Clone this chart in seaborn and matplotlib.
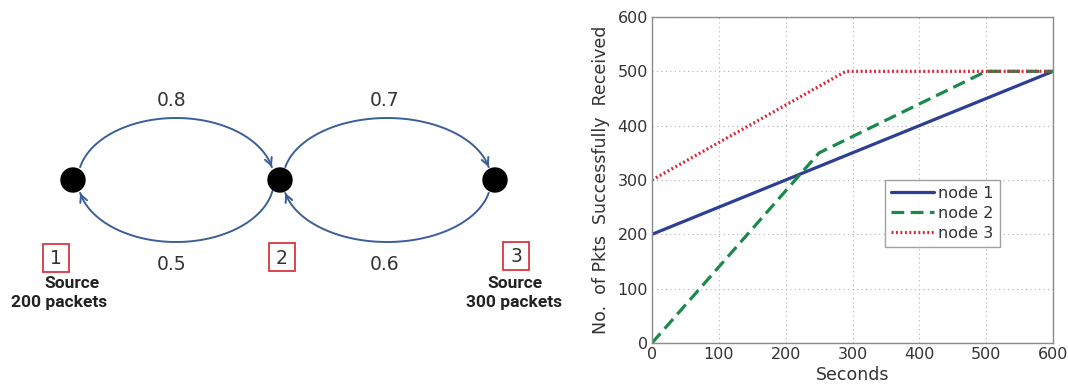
import numpy as np
import matplotlib
matplotlib.use("Agg")
import matplotlib.pyplot as plt
import seaborn as sns
from matplotlib.patches import Circle, Rectangle

# chart data
node1_t = [0, 600]
node1_pk = [200, 500]
node2_t = [0, 250, 500, 600]
node2_pk = [0, 350, 500, 500]
node3_t = [0, 290, 600]
node3_pk = [300, 500, 500]
x_ticks = [0, 100, 200, 300, 400, 500, 600]
y_ticks = [0, 100, 200, 300, 400, 500, 600]

# diagram labels
edge_probs = ["0.8", "0.5", "0.7", "0.6"]
node_ids = ["1", "2", "3"]

sns.set_style("whitegrid")
plt.rcParams['font.family'] = ['DejaVu Sans']

fig = plt.figure(figsize=(10.68, 3.87), dpi=100)

# ---- left: network diagram (pixel coords) ----
axd = fig.add_axes([0, 0, 580 / 1068, 1])
axd.set_xlim(0, 580)
axd.set_ylim(387, 0)
axd.axis("off")

arc_col = "#3b5f98"

def ell_arc(cx, cy, a, b, t0, t1):
    t = np.radians(np.linspace(t0, t1, 100))
    x = cx + a * np.cos(t)
    y = cy - b * np.sin(t)
    axd.plot(x, y, color=arc_col, lw=1.4)
    axd.annotate("", xy=(x[-1], y[-1]), xytext=(x[-4], y[-4]),
                 arrowprops=dict(arrowstyle="->", color=arc_col, lw=1.4,
                                 mutation_scale=13))

ell_arc(176, 180, 98, 62, 168, 12)
ell_arc(176, 180, 98, 62, -10, -168)
ell_arc(387, 180, 104, 62, 168, 12)
ell_arc(387, 180, 104, 62, -12, -168)

for cx in [73, 280, 495]:
    axd.add_patch(Circle((cx, 180), 12, color="black", zorder=5))

lab_pos = [(172, 100), (172, 264), (385, 100), (385, 264)]
for (x, y), s in zip(lab_pos, edge_probs):
    axd.text(x, y, s, ha="center", va="center", fontsize=13.5, color="#333333")

box_pos = [(56, 258), (282, 257), (516, 256)]
for (x, y), s in zip(box_pos, node_ids):
    axd.add_patch(Rectangle((x - 13, y - 14), 26, 28, fill=False,
                            edgecolor="#d9363e", lw=1.3))
    axd.text(x, y + 1, s, ha="center", va="center", fontsize=13.5, color="#333333")

src_style = dict(ha="center", va="center", fontsize=12.5, fontweight="bold",
                 color="#222222", family="Roboto")
axd.text(72, 283, "Source", **src_style)
axd.text(59, 303, "200 packets", **src_style)
axd.text(515, 283, "Source", **src_style)
axd.text(514, 303, "300 packets", **src_style)

# ---- right: line chart ----
ax = fig.add_axes([652 / 1068, 44 / 387, 401 / 1068, 326 / 387])
sns.lineplot(x=node1_t, y=node1_pk, ax=ax, color="#2c3f94", lw=2.3, label="node 1")
sns.lineplot(x=node2_t, y=node2_pk, ax=ax, color="#1a8a4c", lw=2.3,
             linestyle=(0, (4, 2)), label="node 2")
sns.lineplot(x=node3_t, y=node3_pk, ax=ax, color="#d8283a", lw=2.3,
             linestyle=(0, (0.6, 0.8)), label="node 3")

ax.set_xlim(0, 600)
ax.set_ylim(0, 600)
ax.set_xticks(x_ticks)
ax.set_yticks(y_ticks)
ax.grid(True, color="#b0b0b0", linestyle=(0, (1, 3)), lw=0.8)
for sp in ax.spines.values():
    sp.set_color("#8a8a8a")
    sp.set_linewidth(1.0)
ax.tick_params(direction="in", length=3, colors="#8a8a8a", labelcolor="#333333",
               labelsize=11.5, pad=3)
ax.set_xlabel("Seconds", fontsize=12.5, color="#333333", labelpad=3)
ax.set_ylabel("No.  of Pkts  Successfully  Received", fontsize=12.5,
              color="#333333", labelpad=5)

leg = ax.legend(loc="lower left", bbox_to_anchor=(0.561, 0.27), fontsize=11.5,
                frameon=True, fancybox=False, handlelength=2.7,
                handletextpad=0.2, borderpad=0.4, labelspacing=0.3)
leg.get_frame().set_edgecolor("#8a8a8a")
leg.get_frame().set_linewidth(1.0)
for t in leg.get_texts():
    t.set_color("#333333")

fig.savefig("out.png", dpi=100)
